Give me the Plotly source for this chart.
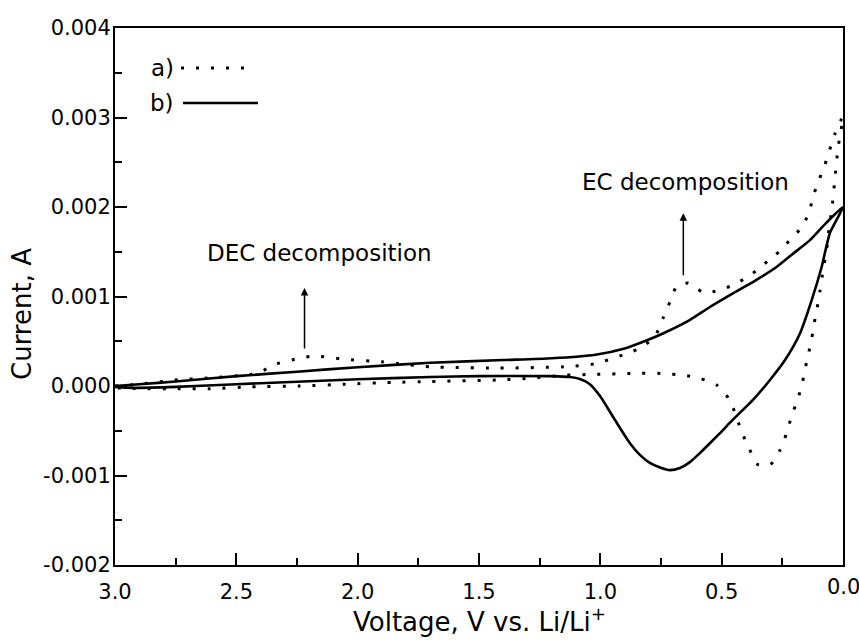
import plotly.graph_objects as go

# Cyclic voltammograms: current vs. potential, cathodic sweep 3.0 -> 0.0 V then back
# a) dotted curve
a_voltage = [3.00, 2.90, 2.74, 2.63, 2.44, 2.39, 2.35, 2.24, 2.18, 2.06, 1.90, 1.83, 1.70,
             1.43, 1.15, 1.02, 0.905, 0.823, 0.768, 0.74, 0.713, 0.686, 0.638, 0.597,
             0.575, 0.507, 0.46, 0.404, 0.356, 0.308, 0.26, 0.216, 0.174, 0.141, 0.123,
             0.102, 0.075, 0.033, 0.00,
             0.02, 0.033, 0.047, 0.057, 0.064, 0.085, 0.095, 0.106, 0.118, 0.129, 0.143,
             0.157, 0.171, 0.191, 0.212, 0.233, 0.26, 0.30, 0.35, 0.39, 0.418, 0.466,
             0.52, 0.59, 0.658, 0.74, 0.878, 1.015, 1.153, 1.29, 1.427, 1.70, 1.86, 2.05,
             2.24, 2.44, 2.61, 2.74, 2.90, 3.00]
a_current = [0.0, 0.00002, 0.00007, 0.000086, 0.00013, 0.00017, 0.000235, 0.00031, 0.000335,
             0.0003, 0.00027, 0.00025, 0.000215, 0.0002, 0.000215, 0.00025, 0.00035,
             0.00044, 0.00059, 0.00077, 0.00094, 0.00111, 0.00115, 0.00108,
             0.00104, 0.00107, 0.00112, 0.0012, 0.00129, 0.0014, 0.00151, 0.00164,
             0.00176, 0.00193, 0.00212, 0.00228, 0.00247, 0.00282, 0.00301,
             0.00267, 0.00232, 0.00195, 0.00178, 0.00159, 0.00124, 0.00106, 0.00088,
             0.00071, 0.00053, 0.00035, 0.00018, -0.00001, -0.00018, -0.00034, -0.00053,
             -0.00072, -0.00088, -0.00088, -0.00068, -0.00051, -0.00016, 0.00001,
             0.000086, 0.00012, 0.00014, 0.00014, 0.00013, 0.00012, 0.000086, 0.000067,
             0.00005, 0.00004, 0.00002, 0.0, -0.00001, -0.00003, -0.00003, -0.00003,
             -0.00002]

# b) solid curve
b_voltage = [3.00, 2.90, 2.75, 2.50, 2.25, 2.00, 1.70, 1.40, 1.20, 1.02, 0.90, 0.80, 0.74,
             0.63, 0.55, 0.45, 0.36, 0.274, 0.21, 0.136, 0.07, 0.00,
             0.054, 0.088, 0.129, 0.177, 0.239, 0.301, 0.371, 0.425, 0.466, 0.508, 0.549,
             0.59, 0.631, 0.672, 0.713, 0.754, 0.796, 0.837, 0.878, 0.919, 0.96, 1.002,
             1.043, 1.084, 1.125, 1.208, 1.50, 1.70, 2.00, 2.50, 2.75, 2.95, 3.00]
b_current = [0.0, 0.00002, 0.00005, 0.00011, 0.00016, 0.00021, 0.00026, 0.00029, 0.00031,
             0.00035, 0.00042, 0.00052, 0.00059, 0.00074, 0.00088, 0.00104, 0.00118,
             0.00133, 0.00147, 0.00163, 0.00182, 0.00200,
             0.00171, 0.00133, 0.00096, 0.00059, 0.00029, 0.000067, -0.000156, -0.0003,
             -0.00041, -0.00053, -0.00064, -0.00075, -0.00085, -0.000916, -0.00094,
             -0.00091, -0.00086, -0.00077, -0.00064, -0.00047, -0.00029, -0.00011,
             0.00002, 0.000078, 0.0001, 0.00011, 0.00011, 0.0001, 0.000075, 0.00002,
             -0.00001, -0.00002, -0.00001]

x_ticks = [3.0, 2.5, 2.0, 1.5, 1.0, 0.5, 0.0]
x_ticklabels = ["3.0", "2.5", "2.0", "1.5", "1.0", "0.5", "0.0"]
y_ticks = [-0.002, -0.001, 0.0, 0.001, 0.002, 0.003, 0.004]
y_ticklabels = ["-0.002", "-0.001", "0.000", "0.001", "0.002", "0.003", "0.004"]

FONT = "DejaVu Sans"
L, R, T, B = 115, 16, 28, 75
W, H = 859, 640
PW, PH = W - L - R, H - T - B


def px(xp):
    return (xp - L) / PW


def py(yp):
    return (H - B - yp) / PH


fig = go.Figure()
fig.add_trace(go.Scatter(x=a_voltage, y=a_current, mode="lines",
                         line=dict(color="black", width=3, dash="3px,12px",
                                   shape="spline", smoothing=0.6),
                         showlegend=False))
fig.add_trace(go.Scatter(x=b_voltage, y=b_current, mode="lines",
                         line=dict(color="black", width=2.6, shape="spline", smoothing=0.6),
                         showlegend=False))

TICKFONT = dict(family=FONT, size=21, color="black")

# The last x label sits on the page edge; it is drawn as an annotation below so it
# is cropped by the page instead of being hidden by the axis.
fig.update_xaxes(range=[3.0, 0.0], tickmode="array", tickvals=x_ticks,
                 ticktext=x_ticklabels[:-1] + [""], ticklabelstandoff=7, tickfont=TICKFONT,
                 showline=True, linecolor="black", linewidth=2, mirror=True,
                 ticks="inside", ticklen=12, tickwidth=2, tickcolor="black",
                 showgrid=False, zeroline=False,
                 minor=dict(tickmode="linear", tick0=0, dtick=0.25, ticks="inside",
                            ticklen=7, tickwidth=2, tickcolor="black"))
fig.update_yaxes(range=[-0.002, 0.004], tickmode="array", tickvals=y_ticks,
                 ticktext=y_ticklabels, ticklabelstandoff=-2, tickfont=TICKFONT,
                 showline=True, linecolor="black", linewidth=2, mirror=True,
                 ticks="inside", ticklen=12, tickwidth=2, tickcolor="black",
                 showgrid=False, zeroline=False,
                 minor=dict(tickmode="linear", tick0=0, dtick=0.0005, ticks="inside",
                            ticklen=7, tickwidth=2, tickcolor="black"))


def label(text, x, y, size, xref="paper", yref="paper", angle=0):
    return dict(text=text, x=x, y=y, xref=xref, yref=yref, showarrow=False,
                xanchor="center", yanchor="middle", textangle=angle,
                font=dict(family=FONT, size=size, color="black"))


def arrow(x, y_tail, y_head):
    return dict(x=x, y=y_head, ax=x, ay=y_tail, xref="x", yref="y", axref="x", ayref="y",
                text="", showarrow=True, arrowhead=2, arrowsize=1, arrowwidth=1.5,
                arrowcolor="black")


annotations = [
    label(x_ticklabels[-1], x_ticks[-1], py(587), 21, xref="x"),
    label("Current, A", px(22), py(314), 26, angle=-90),
    label("Voltage, V vs. Li/Li<sup>+</sup>", px(479), py(620), 26),
    label("DEC decomposition", 2.159, 0.001486, 23, xref="x", yref="y"),
    label("EC decomposition", 0.649, 0.002283, 23, xref="x", yref="y"),
    arrow(2.219, 0.000402, 0.001095),
    arrow(0.658, 0.00122, 0.00193),
    label("a)", px(162), py(68), 23),
    label("b)", px(162), py(103), 23),
]

shapes = [
    dict(type="line", xref="paper", yref="paper", x0=px(181), x1=px(252), y0=py(68),
         y1=py(68), line=dict(color="black", width=3, dash="3px,12px")),
    dict(type="line", xref="paper", yref="paper", x0=px(183), x1=px(258), y0=py(103),
         y1=py(103), line=dict(color="black", width=2.6)),
]

fig.update_layout(width=W, height=H, margin=dict(l=L, r=R, t=T, b=B),
                  paper_bgcolor="white", plot_bgcolor="white",
                  annotations=annotations, shapes=shapes, showlegend=False,
                  font=dict(family=FONT, color="black"))

fig.write_html("out.html")
